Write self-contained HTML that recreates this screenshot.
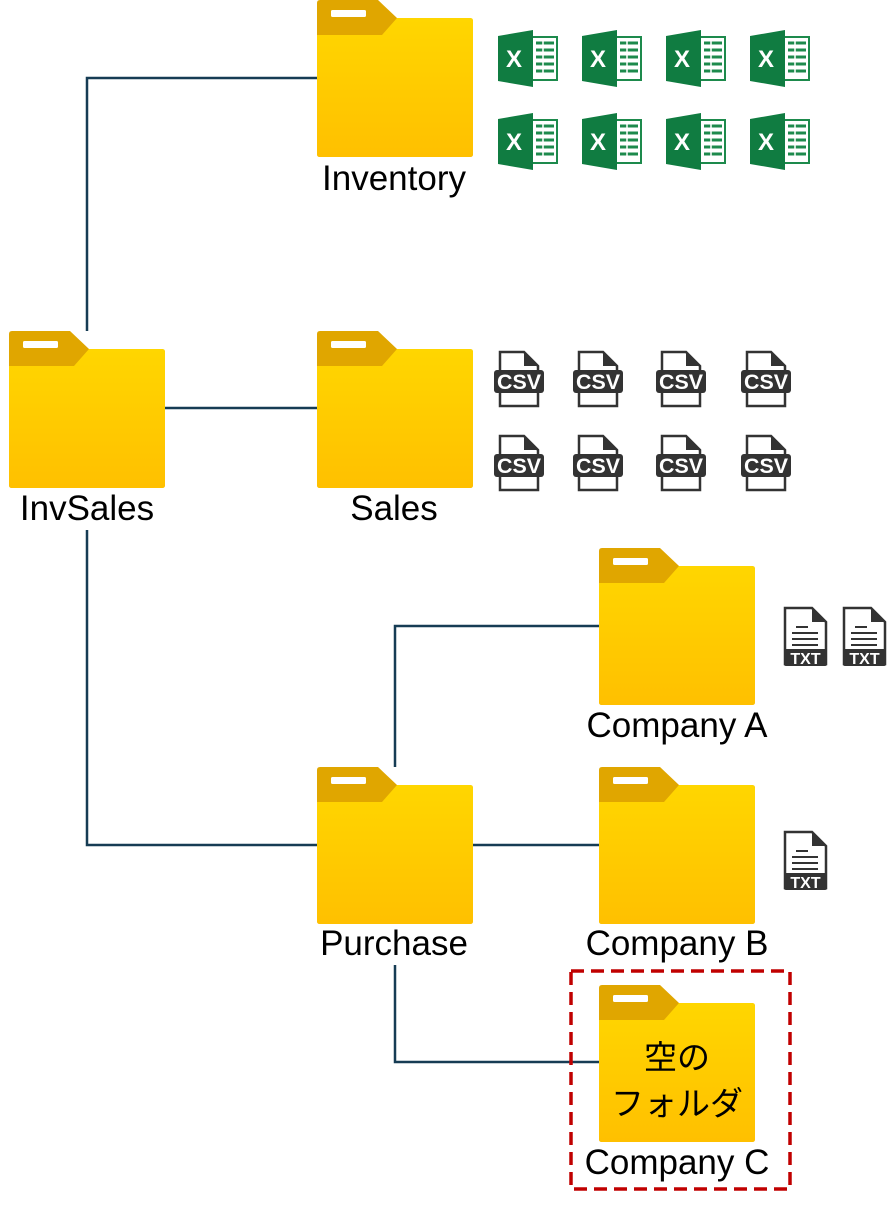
<!DOCTYPE html>
<html><head><meta charset="utf-8"><style>
html,body{margin:0;padding:0;background:#fff;}
body{width:887px;height:1200px;overflow:hidden;}
</style></head><body>
<svg width="887" height="1200" xmlns="http://www.w3.org/2000/svg" font-family="Liberation Sans, Noto Sans CJK JP, sans-serif">
<defs>
<linearGradient id="g" x1="0" y1="0" x2="0" y2="1"><stop offset="0" stop-color="#FFD600"/><stop offset="1" stop-color="#FFC000"/></linearGradient>
<g id="folder">
<path d="M3,0 H61 L80,18 H153 Q156,18 156,21 V154 Q156,157 153,157 H3 Q0,157 0,154 V3 Q0,0 3,0Z" fill="#E0A600"/>
<path d="M0,35 H65 L80,18 H153 Q156,18 156,21 V154 Q156,157 153,157 H3 Q0,157 0,154Z" fill="url(#g)"/>
<rect x="14" y="10" width="35" height="7" rx="1.5" fill="#fff"/>
</g>
<g id="xl">
<rect x="30" y="7" width="29" height="43" fill="#fff" stroke="#1D8A4C" stroke-width="2"/>
<g stroke="#1D8A4C" stroke-width="3"><line x1="38" y1="13" x2="56" y2="13"/><line x1="38" y1="20" x2="56" y2="20"/><line x1="38" y1="27" x2="56" y2="27"/><line x1="38" y1="34" x2="56" y2="34"/><line x1="38" y1="41" x2="56" y2="41"/></g>
<line x1="45" y1="10" x2="45" y2="47" stroke="#fff" stroke-width="1.5"/>
<path d="M0,6 L35,0 V57 L0,51Z" fill="#107C41"/>
<text x="16" y="37" font-size="24" font-weight="bold" fill="#fff" text-anchor="middle">X</text>
</g>
<g id="csv">
<path d="M6,2 H30 L44,16 V56 H6Z" fill="#fff" stroke="#333" stroke-width="2.5"/>
<path d="M30,2 V16 H44Z" fill="#333"/>
<rect x="0" y="20" width="50" height="23" rx="3" fill="#333"/>
<text x="25" y="39" font-size="21" font-weight="bold" fill="#fff" text-anchor="middle" textLength="44" lengthAdjust="spacingAndGlyphs">CSV</text>
</g>
<g id="txt">
<path d="M3,2 H30 L44,16 V58 H3Z" fill="#fff" stroke="#333" stroke-width="2.5"/>
<path d="M30,2 V16 H44Z" fill="#333"/>
<g stroke="#333" stroke-width="2"><line x1="14" y1="21" x2="26" y2="21"/><line x1="10" y1="27" x2="36" y2="27"/><line x1="10" y1="33" x2="36" y2="33"/><line x1="10" y1="39" x2="36" y2="39"/></g>
<rect x="2" y="43" width="43" height="17" rx="2" fill="#333"/>
<text x="23.5" y="58" font-size="16" font-weight="bold" fill="#fff" text-anchor="middle">TXT</text>
</g>
</defs>
<g stroke="#163C54" stroke-width="2.5" fill="none">
<path d="M87,331 V78 H317"/>
<path d="M165,408 H317"/>
<path d="M87,530 V845 H317"/>
<path d="M395,767 V626 H599"/>
<path d="M473,845 H599"/>
<path d="M395,965 V1062 H599"/>
</g>
<use href="#folder" x="317" y="0"/>
<use href="#folder" x="9" y="331"/>
<use href="#folder" x="317" y="331"/>
<use href="#folder" x="599" y="548"/>
<use href="#folder" x="317" y="767"/>
<use href="#folder" x="599" y="767"/>
<use href="#folder" x="599" y="985"/>
<g font-size="35" fill="#000" text-anchor="middle">
<text x="394" y="190">Inventory</text>
<text x="87" y="520">InvSales</text>
<text x="394" y="520">Sales</text>
<text x="677" y="737">Company A</text>
<text x="394" y="955">Purchase</text>
<text x="677" y="955">Company B</text>
<text x="677" y="1174">Company C</text>
<text x="677" y="1069" font-size="33">空の</text>
<text x="677" y="1115" font-size="33">フォルダ</text>
</g>
<rect x="571" y="971" width="219" height="218" fill="none" stroke="#C00000" stroke-width="3.5" stroke-dasharray="13,7"/>
<use href="#xl" x="498" y="30"/><use href="#xl" x="582" y="30"/><use href="#xl" x="666" y="30"/><use href="#xl" x="750" y="30"/>
<use href="#xl" x="498" y="113"/><use href="#xl" x="582" y="113"/><use href="#xl" x="666" y="113"/><use href="#xl" x="750" y="113"/>
<use href="#csv" x="494" y="350"/><use href="#csv" x="573" y="350"/><use href="#csv" x="656" y="350"/><use href="#csv" x="741" y="350"/>
<use href="#csv" x="494" y="434"/><use href="#csv" x="573" y="434"/><use href="#csv" x="656" y="434"/><use href="#csv" x="741" y="434"/>
<use href="#txt" x="782" y="606"/><use href="#txt" x="841" y="606"/>
<use href="#txt" x="782" y="830"/>
</svg>
</body></html>
